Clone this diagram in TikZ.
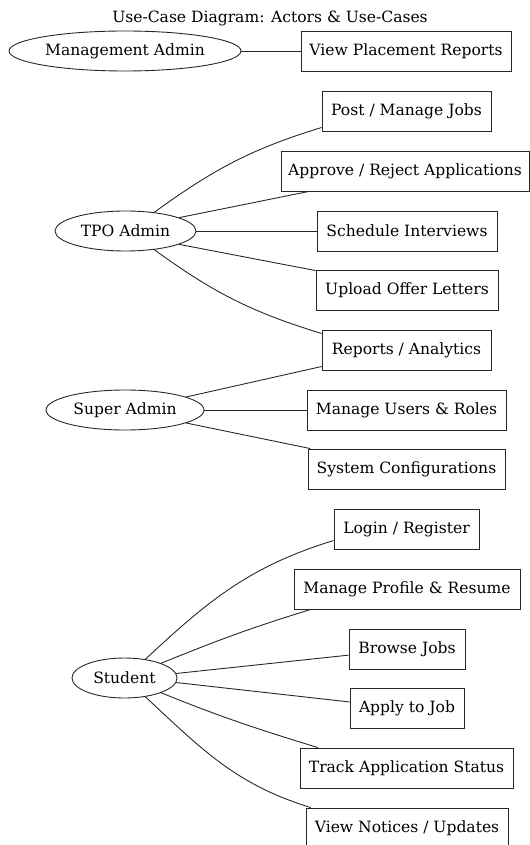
\documentclass[tikz,border=0pt]{standalone}
\usepackage{fontspec}
\setmainfont{DejaVu Serif}
\usetikzlibrary{shapes.geometric}
\begin{document}
\begin{tikzpicture}[x=0.9pt,y=0.9pt,
  txt/.style={font=\fontsize{14}{16}\selectfont},
  uc/.style={draw, rectangle, txt, minimum height=36pt, inner sep=0pt, minimum width=#1*0.9pt},
  actor/.style={draw, ellipse, txt, minimum height=36pt, inner sep=0pt, minimum width=#1*0.9pt},
  edge/.style={draw, line width=0.8pt, color=black!85}]
\useasboundingbox (0,0) rectangle (529,-845);
\tikzset{every node/.append style={line width=0.8pt, draw=black!85}}

\node[txt, draw=none] (title) at (270,-18) {Use-Case Diagram: Actors \& Use-Cases};

\node[actor=232] (mgmt) at (125,-51) {Management Admin};
\node[uc=210] (vpr) at (406,-51) {View Placement Reports};

\node[actor=141] (tpo) at (125.5,-231) {TPO Admin};
\node[uc=169] (post) at (406.5,-111) {Post / Manage Jobs};
\node[uc=248] (appr) at (405,-171) {Approve / Reject Applications};
\node[uc=180] (sched) at (407,-231) {Schedule Interviews};
\node[uc=182] (upload) at (407,-290) {Upload Offer Letters};
\node[uc=169] (reports) at (406.5,-350) {Reports / Analytics};

\node[actor=158] (super) at (125,-410) {Super Admin};
\node[uc=199] (users) at (406.5,-410) {Manage Users \& Roles};
\node[uc=197] (system) at (406.5,-469) {System Configurations};

\node[actor=105] (student) at (124.5,-678) {Student};
\node[uc=145] (login) at (406.5,-529) {Login / Register};
\node[uc=226] (profile) at (407,-589) {Manage Profile \& Resume};
\node[uc=116] (browse) at (407,-649) {Browse Jobs};
\node[uc=114] (apply) at (407,-708) {Apply to Job};
\node[uc=213] (track) at (406.5,-768) {Track Application Status};
\node[uc=202] (view) at (407,-828) {View Notices / Updates};

\draw[edge] (mgmt) -- (vpr);

\draw[edge] (tpo.33) to[out=36,in=197] (post.191);
\draw[edge] (tpo.14) -- (appr.192);
\draw[edge] (tpo) -- (sched);
\draw[edge] (tpo.-14) -- (upload.168);
\draw[edge] (tpo.-33) to[out=-36,in=163] (reports.169);

\draw[edge] (super.12) -- (reports.191);
\draw[edge] (super) -- (users);
\draw[edge] (super.-12) -- (system.168);

\draw[edge] (student.42) to[out=43,in=197] (login.189);
\draw[edge] (student.22) to[out=22,in=197] (profile.192);
\draw[edge] (student.5) -- (browse.186);
\draw[edge] (student.-5) -- (apply.174);
\draw[edge] (student.-22) to[out=-22,in=163] (track.167);
\draw[edge] (student.-42) to[out=-43,in=163] (view.168);
\end{tikzpicture}
\end{document}
